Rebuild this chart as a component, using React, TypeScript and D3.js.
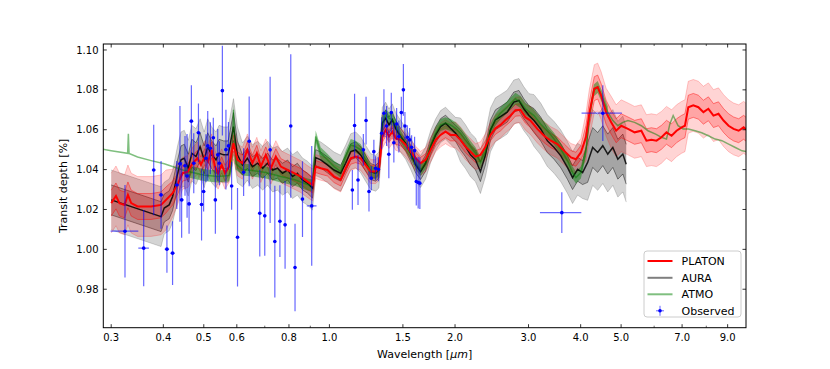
import React from "react";
import * as d3 from "d3";

const W = 830;
const H = 369;
const M = { left: 103.3, right: 746, top: 44, bottom: 327.7 };

const xTicksMajor = [0.3, 0.4, 0.5, 0.6, 0.8, 1.0, 1.5, 2.0, 3.0, 4.0, 5.0, 7.0, 9.0];
const xTicksMinor = [0.7, 0.9, 6.0, 8.0];
const yTicks = [0.98, 1.0, 1.02, 1.04, 1.06, 1.08, 1.1];

// PLATON
const platonWl = [0.300,0.308,0.314,0.323,0.329,0.335,0.347,0.374,0.395,0.406,
0.421,0.434,0.445,0.458,0.470,0.483,0.492,0.503,0.512,0.522,
0.532,0.541,0.552,0.562,0.575,0.589,0.602,0.619,0.636,0.654,
0.670,0.685,0.704,0.724,0.744,0.765,0.794,0.823,0.854,0.886,
0.911,0.927,0.953,0.989,1.026,1.064,1.094,1.125,1.156,1.188,
1.221,1.256,1.291,1.314,1.339,1.364,1.389,1.415,1.441,1.482,
1.523,1.565,1.609,1.654,1.700,1.748,1.797,1.847,1.898,1.951,
2.006,2.061,2.119,2.178,2.239,2.301,2.366,2.432,2.500,2.570,
2.642,2.715,2.791,2.869,2.949,3.032,3.150,3.269,3.392,3.518,
3.652,3.791,3.897,4.005,4.119,4.195,4.313,4.394,4.477,4.602,
4.733,4.865,5.004,5.192,5.387,5.590,5.750,5.910,6.078,6.248,
6.423,6.606,6.790,6.982,7.111,7.244,7.447,7.659,7.874,8.093,
8.323,8.557,8.800,9.047,9.298,9.563,9.831,10.0];
const platonMed = [1.0232,1.0268,1.0232,1.0223,1.0273,1.0232,1.0215,1.0215,1.0223,1.0248,
1.0282,1.0332,1.0382,1.0390,1.0432,1.0457,1.0424,1.0465,1.0440,1.0499,
1.0415,1.0382,1.0424,1.0382,1.0415,1.0532,1.0449,1.0432,1.0499,1.0432,
1.0482,1.0415,1.0474,1.0407,1.0465,1.0415,1.0398,1.0382,1.0365,1.0340,
1.0323,1.0415,1.0407,1.0398,1.0365,1.0348,1.0407,1.0457,1.0465,1.0457,
1.0424,1.0390,1.0390,1.0407,1.0566,1.0599,1.0566,1.0590,1.0557,1.0549,
1.0524,1.0490,1.0457,1.0432,1.0449,1.0499,1.0549,1.0574,1.0590,1.0574,
1.0574,1.0549,1.0515,1.0490,1.0465,1.0474,1.0515,1.0574,1.0607,1.0624,
1.0649,1.0670,1.0698,1.0700,1.0663,1.0646,1.0604,1.0570,1.0545,1.0528,
1.0494,1.0461,1.0452,1.0486,1.0562,1.0680,1.0806,1.0814,1.0772,1.0688,
1.0638,1.0595,1.0620,1.0604,1.0587,1.0595,1.0545,1.0550,1.0545,1.0562,
1.0587,1.0570,1.0595,1.0612,1.0620,1.0713,1.0722,1.0713,1.0688,1.0705,
1.0671,1.0680,1.0646,1.0620,1.0604,1.0595,1.0612,1.0600];
const platonSig1 = [0.0065,0.0065,0.0065,0.0065,0.0065,0.0065,0.0065,0.0065,0.0065,0.0065,
0.006,0.005,
0.004,0.004,0.004,0.004,0.004,0.004,0.004,0.004,0.004,0.004,0.004,0.004,0.004,0.004,0.004,
0.004,0.004,0.004,0.004,0.004,0.004,0.004,0.004,0.004,0.004,0.004,0.004,0.004,0.004,
0.003,0.003,0.003,0.003,0.003,0.003,0.003,0.003,0.003,0.003,0.003,0.003,0.003,
0.003,0.003,0.003,0.003,0.003,0.003,0.003,0.003,0.003,0.003,0.003,0.003,0.003,0.003,0.003,0.003,
0.003,0.003,0.003,0.003,0.003,0.003,0.003,0.003,0.003,0.003,0.003,0.003,0.003,0.003,0.003,
0.0035,0.0035,0.0035,0.0035,0.0035,0.0035,0.0035,0.0035,0.0035,
0.006,0.006,0.006,0.006,0.006,0.006,
0.006,0.006,0.006,0.006,0.006,0.006,0.006,0.006,0.006,0.006,0.006,0.006,0.006,0.006,
0.006,0.006,0.006,0.006,0.006,0.006,0.006,0.006,0.006,0.006,0.006,0.006,0.006,0.006];
const platonSig2 = [0.015,0.015,0.015,0.015,0.015,0.015,0.015,0.015,0.015,0.015,
0.012,0.010,
0.008,0.008,0.008,0.008,0.008,0.008,0.008,0.008,0.008,0.008,0.008,0.008,0.008,0.008,0.008,
0.008,0.008,0.008,0.008,0.008,0.008,0.008,0.008,0.008,0.008,0.008,0.008,0.008,0.008,
0.006,0.006,0.006,0.006,0.006,0.006,0.006,0.006,0.006,0.006,0.006,0.006,0.006,
0.006,0.006,0.006,0.006,0.006,0.006,0.006,0.006,0.006,0.006,0.006,0.006,0.006,0.006,0.006,0.006,
0.0065,0.0065,0.0065,0.0065,0.0065,0.0065,0.0065,0.0065,0.0065,0.0065,0.0065,0.0065,0.0065,0.0065,0.0065,
0.007,0.007,0.007,0.007,0.007,0.007,0.007,0.007,0.007,
0.012,0.012,0.012,0.012,0.012,0.012,
0.013,0.013,0.013,0.013,0.013,0.013,0.013,0.013,0.013,0.013,0.013,0.013,0.013,0.013,
0.013,0.013,0.013,0.013,0.013,0.013,0.013,0.013,0.013,0.013,0.013,0.013,0.013,0.013];

// AURA
const auraWl = [0.300,0.395,0.402,0.413,0.421,0.433,0.441,0.449,0.459,0.468,
0.479,0.490,0.501,0.511,0.522,0.535,0.544,0.558,0.572,0.589,
0.602,0.619,0.636,0.654,0.673,0.692,0.711,0.731,0.751,0.772,
0.794,0.816,0.838,0.862,0.886,0.911,0.927,0.953,0.989,1.026,
1.064,1.094,1.125,1.156,1.188,1.221,1.256,1.291,1.314,1.339,
1.364,1.389,1.415,1.441,1.482,1.523,1.565,1.609,1.654,1.700,
1.748,1.797,1.847,1.898,1.951,2.006,2.061,2.119,2.178,2.239,
2.301,2.366,2.432,2.500,2.570,2.666,2.766,2.845,2.924,3.008,
3.092,3.208,3.329,3.456,3.585,3.721,3.825,3.933,4.043,4.157,
4.274,4.394,4.519,4.645,4.777,4.911,5.048,5.143];
const auraMed = [1.0248,1.0164,1.0207,1.0223,1.0265,1.0382,1.0449,1.0457,1.0407,1.0482,
1.0465,1.0515,1.0449,1.0515,1.0474,1.0449,1.0482,1.0474,1.0474,1.0616,
1.0474,1.0424,1.0457,1.0415,1.0432,1.0407,1.0432,1.0398,1.0407,1.0382,
1.0398,1.0365,1.0382,1.0348,1.0332,1.0307,1.0460,1.0449,1.0424,1.0398,
1.0382,1.0432,1.0490,1.0499,1.0474,1.0432,1.0390,1.0382,1.0398,1.0633,
1.0658,1.0624,1.0650,1.0607,1.0566,1.0532,1.0482,1.0424,1.0390,1.0432,
1.0515,1.0574,1.0616,1.0633,1.0607,1.0582,1.0549,1.0515,1.0474,1.0449,
1.0390,1.0474,1.0599,1.0650,1.0666,1.0688,1.0739,1.0747,1.0705,1.0671,
1.0646,1.0604,1.0545,1.0511,1.0469,1.0410,1.0360,1.0402,1.0385,1.0436,
1.0511,1.0486,1.0520,1.0478,1.0511,1.0452,1.0478,1.0427];
const auraSig1 = [0.0075,0.0075,
0.007,0.007,0.007,
0.007,0.007,0.007,0.007,0.007,0.007,0.007,0.007,0.007,0.007,0.007,0.007,0.007,0.007,0.007,0.007,
0.005,0.005,0.005,0.005,0.005,0.005,0.005,0.005,0.005,0.005,0.005,0.005,0.005,0.005,0.005,
0.004,0.004,0.004,0.004,0.004,0.004,0.004,0.004,0.004,0.004,0.004,0.004,0.004,
0.004,0.004,0.004,0.004,0.004,0.004,0.004,0.004,0.004,0.004,0.004,0.004,0.004,0.004,0.004,0.004,0.004,
0.005,0.005,0.005,0.005,0.005,0.005,0.005,0.005,0.005,0.005,0.005,0.005,0.005,0.005,
0.006,0.006,0.006,0.006,0.006,0.006,0.006,0.006,0.006,
0.010,0.010,0.010,0.010,0.010,0.010,0.010,0.010,0.010];
const auraSig2 = [0.015,0.015,
0.013,0.013,0.013,
0.014,0.014,0.014,0.014,0.014,0.014,0.014,0.014,0.014,0.014,0.014,0.014,0.014,0.014,0.014,0.014,
0.011,0.011,0.011,0.011,0.011,0.011,0.011,0.011,0.011,0.011,0.011,0.011,0.011,0.011,0.011,
0.009,0.009,0.009,0.009,0.009,0.009,0.009,0.009,0.009,0.009,0.009,0.009,0.009,
0.008,0.008,0.008,0.008,0.008,0.008,0.008,0.008,0.008,0.008,0.008,0.008,0.008,0.008,0.008,0.008,0.008,
0.011,0.011,0.011,0.011,0.011,0.011,0.011,0.011,0.011,0.011,0.011,0.011,0.011,0.011,
0.013,0.013,0.013,0.013,0.013,0.013,0.013,0.013,0.013,
0.019,0.019,0.019,0.019,0.019,0.019,0.019,0.019,0.019];

// ATMO
const atmoWl = [0.280,0.300,0.3285,0.3298,0.3311,0.347,0.374,0.402,0.433,0.450,
0.470,0.503,0.541,0.575,0.583,0.589,0.596,0.619,0.654,0.704,
0.765,0.823,0.886,0.911,0.927,0.953,0.989,1.026,1.064,1.094,
1.125,1.156,1.188,1.221,1.256,1.291,1.314,1.339,1.364,1.389,
1.415,1.441,1.482,1.523,1.565,1.609,1.654,1.700,1.748,1.797,
1.847,1.898,1.951,2.006,2.061,2.119,2.178,2.239,2.301,2.366,
2.432,2.500,2.570,2.666,2.791,2.869,2.949,3.092,3.208,3.329,
3.456,3.585,3.721,3.825,3.897,4.005,4.119,4.195,4.300,4.394,
4.519,4.645,4.777,4.911,5.048,5.192,5.387,5.590,5.800,6.050,
6.248,6.423,6.544,6.664,6.849,7.041,7.244,7.520,7.800,8.090,
8.400,8.720,9.050,9.390,9.745,10.0];
const atmoMed = [1.0505,1.0495,1.0482,1.0580,1.0481,1.0463,1.0445,1.0429,1.0407,1.0395,
1.0385,1.0372,1.0365,1.0370,1.0420,1.0700,1.0430,1.0400,1.0395,1.0385,
1.0365,1.0350,1.0325,1.0320,1.0566,1.0482,1.0449,1.0415,1.0390,1.0465,
1.0524,1.0515,1.0499,1.0449,1.0390,1.0382,1.0398,1.0633,1.0674,1.0658,
1.0650,1.0624,1.0566,1.0524,1.0482,1.0432,1.0398,1.0432,1.0515,1.0582,
1.0624,1.0633,1.0624,1.0607,1.0582,1.0549,1.0515,1.0482,1.0436,1.0490,
1.0599,1.0650,1.0683,1.0713,1.0755,1.0739,1.0705,1.0671,1.0629,1.0595,
1.0553,1.0503,1.0444,1.0385,1.0360,1.0385,1.0494,1.0663,1.0797,1.0814,
1.0755,1.0688,1.0646,1.0620,1.0637,1.0646,1.0637,1.0620,1.0595,1.0578,
1.0562,1.0553,1.0629,1.0671,1.0620,1.0604,1.0604,1.0595,1.0585,1.0570,
1.0553,1.0545,1.0528,1.0511,1.0494,1.0490];
const atmoSig = [0,0,0,0,0,0,0,0,0,
0.003,0.003,0.003,0.003,0.003,0.003,0.003,0.003,0.003,0.003,0.003,
0.003,0.003,0.003,0.003,0.003,0.003,0.003,0.003,0.003,0.003,
0.003,0.003,0.003,0.003,0.003,0.003,0.003,0.003,0.003,0.003,
0.003,0.003,0.003,0.003,0.003,0.003,0.003,0.003,0.003,0.003,
0.003,0.003,0.003,0.003,0.003,0.003,0.003,0.003,0.003,0.003,
0.003,0.003,0.003,0.003,0.003,0.003,0.003,0.003,0.003,0.003,
0.003,0.003,0.003,0.003,0.003,0.003,0.003,0.003,0.003,0.003,
0.003,0.003,
0,0,0,0,0,0,0,0,0,0,0,0,0,0,0,0,0,0,0,0,0,0,0,0];

// Observed
const obsWl = [0.3237,0.3589,0.3793,0.395,0.408,0.4209,0.4309,0.4384,0.4425,0.4508,
0.456,0.461,0.4669,0.4731,0.4855,0.4939,0.4995,0.506,0.511,0.5185,
0.527,0.533,0.540,0.545,0.554,0.565,0.573,0.583,0.6023,0.6229,
0.6423,0.681,0.700,0.721,0.740,0.761,0.783,0.808,0.8272,0.862,
0.907,1.135,1.149,1.171,1.206,1.224,1.244,1.260,1.278,1.290,
1.310,1.334,1.351,1.371,1.388,1.407,1.427,1.449,1.467,1.487,
1.504,1.517,1.537,1.557,1.574,1.600,1.615,1.632,1.647,3.605,
4.520];
const obsDepth = [1.0091,1.0006,1.0398,1.0273,1.0001,0.9981,1.0323,1.0429,1.0248,1.0419,
1.0368,1.0228,1.0643,1.0432,1.0585,1.0225,1.0290,1.0457,1.0519,1.0507,
1.0560,1.0248,1.0474,1.0432,1.0796,1.0500,1.0519,1.0318,1.0061,1.0387,
1.0542,1.0181,1.0168,1.0499,1.0039,1.0141,1.0123,1.0619,0.9909,1.0252,
1.0218,1.0298,1.0621,1.0348,1.0499,1.0646,1.0290,1.0357,1.0490,1.0407,
1.0402,1.0582,1.0683,1.0619,1.0477,1.0686,1.0535,1.0629,1.0566,1.0686,
1.0800,1.0619,1.0562,1.0549,1.0512,1.0495,1.0340,1.0335,1.0332,1.0184,
1.0683];
const obsErr = [0.0232,0.0191,0.0227,0.017,0.0118,0.016,0.012,0.029,0.019,0.015,
0.021,0.015,0.018,0.015,0.0147,0.018,0.010,0.012,0.0175,0.013,
0.010,0.017,0.013,0.011,0.0225,0.020,0.012,0.012,0.0247,0.012,
0.0225,0.0217,0.020,0.0367,0.028,0.018,0.022,0.036,0.022,0.019,
0.030,0.010,0.016,0.0125,0.008,0.012,0.010,0.006,0.006,0.006,
0.006,0.008,0.012,0.010,0.012,0.010,0.010,0.008,0.008,0.008,
0.013,0.007,0.006,0.006,0.006,0.007,0.012,0.013,0.013,0.0102,
0.014];
const obsWlErr = [0.0247,0.0105,0.004,
0.005,0.005,0.005,0.005,0.005,0.005,0.005,0.005,0.005,0.005,
0.005,0.005,0.005,0.005,0.005,0.005,0.005,0.005,0.005,0.005,
0.005,0.005,0.005,0.005,0.005,0.005,0.005,0.005,0.005,0.005,
0.005,0.005,0.005,0.005,0.005,0.005,0.005,
0.0245,
0.009,0.009,0.009,0.009,0.009,0.009,0.009,0.009,0.009,0.009,
0.009,0.009,0.009,0.009,0.009,0.009,0.009,0.009,0.009,0.009,
0.009,0.009,0.009,0.009,0.009,0.009,0.009,0.009,
0.41,0.50];

const legendItems = ["PLATON", "AURA", "ATMO", "Observed"];

type Pt = { w: number; m: number; s1: number; s2: number };

export default function App() {
  const x = d3.scaleLog().domain([0.2872, 9.96]).range([M.left, M.right]);
  const y = d3.scaleLinear().domain([0.9607, 1.103]).range([M.bottom, M.top]);

  const platon: Pt[] = platonWl.map((w, i) => ({ w, m: platonMed[i], s1: platonSig1[i], s2: platonSig2[i] }));
  const aura: Pt[] = auraWl.map((w, i) => ({ w, m: auraMed[i], s1: auraSig1[i], s2: auraSig2[i] }));
  const atmo: Pt[] = atmoWl.map((w, i) => ({ w, m: atmoMed[i], s1: atmoSig[i], s2: atmoSig[i] }));

  const area = (k: "s1" | "s2") =>
    d3.area<Pt>().x((d) => x(d.w)).y0((d) => y(d.m - d[k])).y1((d) => y(d.m + d[k]));
  const edge = (k: "s1" | "s2", sign: number) =>
    d3.line<Pt>().x((d) => x(d.w)).y((d) => y(d.m + sign * d[k]));
  const mid = d3.line<Pt>().x((d) => x(d.w)).y((d) => y(d.m));
  const atmoArea = d3
    .area<Pt>()
    .defined((d) => d.s1 > 0)
    .x((d) => x(d.w))
    .y0((d) => y(d.m - d.s1))
    .y1((d) => y(d.m + d.s1));

  const bandGroup = (data: Pt[], color: string, f2: number, f1: number, e2: number, e1: number) => (
    <g>
      <path d={area("s2")(data) || ""} fill={color} fillOpacity={f2} />
      <path d={edge("s2", 1)(data) || ""} fill="none" stroke={color} strokeOpacity={e2} strokeWidth={0.7} />
      <path d={edge("s2", -1)(data) || ""} fill="none" stroke={color} strokeOpacity={e2} strokeWidth={0.7} />
      <path d={area("s1")(data) || ""} fill={color} fillOpacity={f1} />
      <path d={edge("s1", 1)(data) || ""} fill="none" stroke={color} strokeOpacity={e1} strokeWidth={0.8} />
      <path d={edge("s1", -1)(data) || ""} fill="none" stroke={color} strokeOpacity={e1} strokeWidth={0.8} />
    </g>
  );

  const font = "DejaVu Sans";
  const legY = [261, 277.8, 294.3, 310.8];

  return (
    <div style={{ position: "absolute", left: 0, top: 0 }}>
      <svg width={W} height={H} style={{ display: "block", fontFamily: font }}>
        <rect x={0} y={0} width={W} height={H} fill="#fff" />
        <defs>
          <clipPath id="plotclip">
            <rect x={M.left} y={M.top} width={M.right - M.left} height={M.bottom - M.top} />
          </clipPath>
        </defs>
        <g clipPath="url(#plotclip)">
          {bandGroup(aura, "#000000", 0.17, 0.22, 0.25, 0.55)}
          {bandGroup(platon, "#ff0000", 0.17, 0.22, 0.3, 0.55)}
          <path d={atmoArea(atmo) || ""} fill="#008000" fillOpacity={0.45} />
          <path d={mid(aura) || ""} fill="none" stroke="#000" strokeOpacity={0.85} strokeWidth={1.5} />
          <path d={mid(atmo) || ""} fill="none" stroke="#008000" strokeOpacity={0.5} strokeWidth={1.5} />
          <path d={mid(platon) || ""} fill="none" stroke="#ff0000" strokeWidth={2} />
          {obsWl.map((w, i) => (
            <g key={i}>
              <line x1={x(w)} x2={x(w)} y1={y(obsDepth[i] - obsErr[i])} y2={y(obsDepth[i] + obsErr[i])}
                stroke="#0000ff" strokeOpacity={0.6} strokeWidth={1.2} />
              <line x1={x(w - obsWlErr[i])} x2={x(w + obsWlErr[i])} y1={y(obsDepth[i])} y2={y(obsDepth[i])}
                stroke="#0000ff" strokeOpacity={0.6} strokeWidth={1.2} />
              <circle cx={x(w)} cy={y(obsDepth[i])} r={1.8} fill="#0000ff" />
            </g>
          ))}
        </g>
        {/* frame */}
        <rect x={M.left} y={M.top} width={M.right - M.left} height={M.bottom - M.top} fill="none" stroke="#000" strokeWidth={1} />
        {/* x ticks */}
        {xTicksMajor.map((t) => (
          <g key={"xm" + t}>
            <line x1={x(t)} x2={x(t)} y1={M.bottom} y2={M.bottom - 3.5} stroke="#000" strokeWidth={0.8} />
            <line x1={x(t)} x2={x(t)} y1={M.top} y2={M.top + 3.5} stroke="#000" strokeWidth={0.8} />
            <text x={x(t)} y={341} fontSize={10} textAnchor="middle" fill="#000">{t.toFixed(1)}</text>
          </g>
        ))}
        {xTicksMinor.map((t) => (
          <g key={"xn" + t}>
            <line x1={x(t)} x2={x(t)} y1={M.bottom} y2={M.bottom - 2} stroke="#000" strokeWidth={0.6} />
            <line x1={x(t)} x2={x(t)} y1={M.top} y2={M.top + 2} stroke="#000" strokeWidth={0.6} />
          </g>
        ))}
        {yTicks.map((t) => (
          <g key={"y" + t}>
            <line x1={M.left} x2={M.left + 3.5} y1={y(t)} y2={y(t)} stroke="#000" strokeWidth={0.8} />
            <line x1={M.right} x2={M.right - 3.5} y1={y(t)} y2={y(t)} stroke="#000" strokeWidth={0.8} />
            <text x={98.5} y={y(t) + 3.6} fontSize={10} textAnchor="end" fill="#000">{t.toFixed(2)}</text>
          </g>
        ))}
        <text x={(M.left + M.right) / 2} y={358} fontSize={11} textAnchor="middle" fill="#000">
          Wavelength [<tspan fontStyle="italic">μm</tspan>]
        </text>
        <text transform={`translate(67,${(M.top + M.bottom) / 2}) rotate(-90)`} fontSize={11} textAnchor="middle" fill="#000">
          Transit depth [%]
        </text>
        {/* legend */}
        <rect x={644} y={251} width={97} height={66} rx={3} fill="#fff" fillOpacity={0.8} stroke="#cccccc" strokeWidth={1} />
        <line x1={647.5} x2={672.5} y1={legY[0]} y2={legY[0]} stroke="#ff0000" strokeWidth={2} />
        <line x1={647.5} x2={672.5} y1={legY[1]} y2={legY[1]} stroke="#000" strokeOpacity={0.5} strokeWidth={2} />
        <line x1={647.5} x2={672.5} y1={legY[2]} y2={legY[2]} stroke="#008000" strokeOpacity={0.5} strokeWidth={2} />
        <line x1={660} x2={660} y1={legY[3] - 5} y2={legY[3] + 5} stroke="#0000ff" strokeOpacity={0.6} strokeWidth={1} />
        <line x1={656} x2={664} y1={legY[3]} y2={legY[3]} stroke="#0000ff" strokeOpacity={0.6} strokeWidth={1} />
        <circle cx={660} cy={legY[3]} r={1.8} fill="#0000ff" />
        {legendItems.map((s, i) => (
          <text key={s} x={681.5} y={legY[i] + 4} fontSize={11} fill="#000">{s}</text>
        ))}
      </svg>
    </div>
  );
}
